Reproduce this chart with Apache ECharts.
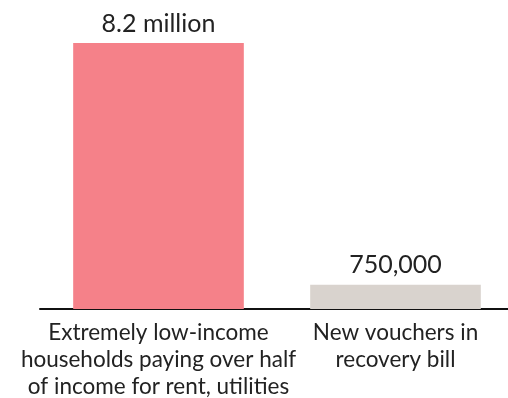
<!DOCTYPE html>
<html><head><meta charset="utf-8">
<script src="https://cdn.jsdelivr.net/npm/echarts@6/dist/echarts.min.js"></script>
<style>html,body{margin:0;padding:0;background:#fff}#c{width:508px;height:398px}</style>
</head><body><div id="c"></div>
<script>
const categories = ["Extremely low-income\nhouseholds paying over half\nof income for rent, utilities", "New vouchers in\nrecovery bill"];
const values = [8200000, 750000];
const valueLabels = ["8.2 million", "750,000"];
const colors = ["#F58189", "#D9D3CE"];

const chart = echarts.init(document.getElementById('c'));
chart.setOption({
  animation: false,
  grid: {left: 40, width: 474, top: 43, bottom: 89, containLabel: false, outerBoundsMode: 'none'},
  xAxis: {
    type: 'category', data: categories,
    axisLine: {lineStyle: {color: '#111', width: 2}},
    axisTick: {show: false},
    axisLabel: {interval: 0, color: '#222', fontFamily: 'Lato', fontSize: 22.5, lineHeight: 27, margin: 10}
  },
  yAxis: {type: 'value', min: 0, max: 8200000, show: false, splitLine: {show: false}},
  series: [{
    type: 'bar', barWidth: '72%',
    data: values.map((v, i) => ({value: v, itemStyle: {color: colors[i]}})),
    label: {show: true, position: 'top', distance: 7, color: '#222', fontFamily: 'Lato', fontSize: 25,
      formatter: p => valueLabels[p.dataIndex]}
  }]
});
</script></body></html>
